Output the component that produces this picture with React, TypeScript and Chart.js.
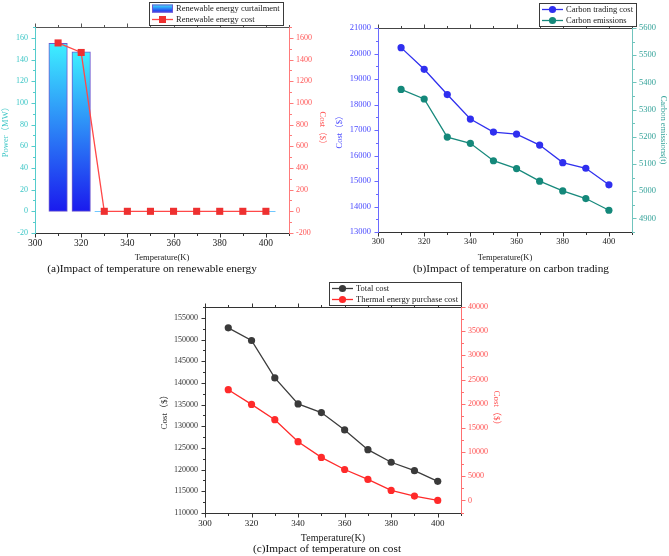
import React, { useEffect, useRef } from 'react';
import { Chart, registerables } from 'chart.js';

Chart.register(...registerables);

const SERIF = "'Liberation Serif', 'Times New Roman', 'Noto Sans CJK SC', serif";
Chart.defaults.font.family = SERIF;

// ---- data ----
const temperatureK = [310, 320, 330, 340, 350, 360, 370, 380, 390, 400];
const temperatureTicks = [300, 320, 340, 360, 380, 400];

const curtailmentMW = [155, 147, 0, 0, 0, 0, 0, 0, 0, 0];
const renewableCost = [1553, 1465, 0, 0, 0, 0, 0, 0, 0, 0];
const powerTicks = [-20, 0, 20, 40, 60, 80, 100, 120, 140, 160];
const renewableCostTicks = [-200, 0, 200, 400, 600, 800, 1000, 1200, 1400, 1600];

const carbonTradingCost = [20230, 19380, 18390, 17430, 16920, 16840, 16410, 15720, 15500, 14850];
const carbonEmissions = [5374, 5339, 5199, 5176, 5112, 5083, 5037, 5001, 4973, 4930];
const tradingCostTicks = [13000, 14000, 15000, 16000, 17000, 18000, 19000, 20000, 21000];
const emissionTicks = [4900, 5000, 5100, 5200, 5300, 5400, 5500, 5600];

const totalCost = [152700, 149770, 141150, 135150, 133150, 129150, 124600, 121700, 119770, 117300];
const thermalPurchaseCost = [22900, 19860, 16700, 12140, 8900, 6400, 4350, 2070, 900, 0];
const totalCostTicks = [110000, 115000, 120000, 125000, 130000, 135000, 140000, 145000, 150000, 155000];
const thermalCostTicks = [0, 5000, 10000, 15000, 20000, 25000, 30000, 35000, 40000];

const points = (ys: number[]) => temperatureK.map((x, i) => ({ x, y: ys[i] }));

// ---- frame with outward major/minor ticks, plus a boxed legend ----
const frameAndLegend = {
  id: 'frameAndLegend',
  afterDraw(chart: any, _args: any, opts: any) {
    const { ctx, chartArea: a, scales } = chart;
    const MAJ = 4;
    const MIN = 2.5;
    ctx.save();
    ctx.lineWidth = 1;

    const side = (scale: any, where: string, color: string) => {
      const vals: number[] = scale.ticks.map((t: any) => t.value);
      const step = vals.length > 1 ? vals[1] - vals[0] : 0;
      const minors: number[] = [];
      for (let i = 0; i < vals.length - 1; i++) minors.push((vals[i] + vals[i + 1]) / 2);
      if (step) {
        const lo = vals[0] - step / 2;
        const hi = vals[vals.length - 1] + step / 2;
        if (lo >= scale.min) minors.unshift(lo);
        if (hi <= scale.max) minors.push(hi);
      }
      ctx.strokeStyle = color;
      ctx.beginPath();
      if (where === 'top' || where === 'bottom') {
        const y = Math.round(where === 'top' ? a.top : a.bottom) + 0.5;
        const dir = where === 'top' ? -1 : 1;
        ctx.moveTo(a.left, y);
        ctx.lineTo(a.right, y);
        const mark = (v: number, len: number) => {
          const x = Math.round(scale.getPixelForValue(v)) + 0.5;
          ctx.moveTo(x, y);
          ctx.lineTo(x, y + dir * len);
        };
        vals.forEach((v) => mark(v, MAJ));
        minors.forEach((v) => mark(v, MIN));
      } else {
        const x = Math.round(where === 'left' ? a.left : a.right) + 0.5;
        const dir = where === 'left' ? -1 : 1;
        ctx.moveTo(x, a.top);
        ctx.lineTo(x, a.bottom + 1);
        const mark = (v: number, len: number) => {
          const y = Math.round(scale.getPixelForValue(v)) + 0.5;
          ctx.moveTo(x, y);
          ctx.lineTo(x + dir * len, y);
        };
        vals.forEach((v) => mark(v, MAJ));
        minors.forEach((v) => mark(v, MIN));
      }
      ctx.stroke();
    };

    side(scales.x, 'top', opts.topColor);
    side(scales.x, 'bottom', opts.bottomColor);
    side(scales.y, 'left', opts.leftColor);
    side(scales.y1, 'right', opts.rightColor);

    // legend
    const ds = chart.data.datasets;
    ctx.font = `${opts.legendSize}px ${SERIF}`;
    const textW = Math.max(...ds.map((d: any) => ctx.measureText(d.label).width));
    const padL = 3, sampleW = 21, gap = 3, padR = 3, rowH = 11;
    const w = Math.round(padL + sampleW + gap + textW + padR);
    const h = ds.length * rowH + 1;
    const right = Math.round(a.right + opts.legendOffsetX);
    const left = right - w;
    const top = opts.legendTop;
    ctx.fillStyle = '#ffffff';
    ctx.fillRect(left, top, w, h);
    ctx.strokeStyle = '#3a3a3a';
    ctx.lineWidth = 1;
    ctx.strokeRect(left + 0.5, top + 0.5, w, h);
    ds.forEach((d: any, i: number) => {
      const cy = top + rowH * i + rowH / 2 + 1;
      const sx = left + padL;
      const kind = d.type ?? chart.config.type;
      if (kind === 'bar') {
        const g = ctx.createLinearGradient(0, cy - 4, 0, cy + 4);
        g.addColorStop(0, '#3ef0ff');
        g.addColorStop(1, '#1a1aee');
        ctx.fillStyle = g;
        ctx.fillRect(sx, cy - 4, sampleW, 8);
        ctx.strokeStyle = d.borderColor;
        ctx.strokeRect(sx + 0.5, cy - 3.5, sampleW - 1, 7);
      } else {
        ctx.strokeStyle = d.borderColor;
        ctx.lineWidth = d.borderWidth;
        ctx.beginPath();
        ctx.moveTo(sx, cy);
        ctx.lineTo(sx + sampleW, cy);
        ctx.stroke();
        ctx.fillStyle = d.pointBackgroundColor;
        const mx = sx + sampleW / 2;
        if (d.pointStyle === 'rect') {
          ctx.fillRect(mx - 3.5, cy - 3.5, 7, 7);
        } else {
          ctx.beginPath();
          ctx.arc(mx, cy, d.pointRadius, 0, Math.PI * 2);
          ctx.fill();
        }
        ctx.lineWidth = 1;
      }
      ctx.fillStyle = '#1a1a1a';
      ctx.textBaseline = 'middle';
      ctx.textAlign = 'left';
      ctx.fillText(d.label, sx + sampleW + gap, cy + 0.5);
    });
    ctx.restore();
  },
};

// ---- axis builders ----
function xAxis(height: number, tickSize: number, titleSize: number) {
  return {
    type: 'linear',
    position: 'bottom',
    min: 300,
    max: 410,
    offset: false,
    grid: { display: false, drawTicks: false },
    border: { display: false },
    afterBuildTicks: (s: any) => {
      s.ticks = temperatureTicks.map((value) => ({ value }));
    },
    afterFit: (s: any) => {
      s.height = height;
    },
    ticks: { color: '#1a1a1a', font: { size: tickSize }, padding: 5, autoSkip: false, maxRotation: 0, callback: (v: any) => String(v) },
    title: { display: true, text: 'Temperature(K)', color: '#1a1a1a', font: { size: titleSize }, padding: { top: 0, bottom: 0 } },
  };
}

function yAxis(o: {
  position: 'left' | 'right';
  min: number;
  max: number;
  ticks: number[];
  width: number;
  color: string;
  size: number;
  title: string;
  titleSize: number;
  titlePad: number;
}) {
  return {
    type: 'linear',
    position: o.position,
    min: o.min,
    max: o.max,
    grid: { display: false, drawTicks: false },
    border: { display: false },
    afterBuildTicks: (s: any) => {
      s.ticks = o.ticks.map((value) => ({ value }));
    },
    afterFit: (s: any) => {
      s.width = o.width;
    },
    ticks: { color: o.color, font: { size: o.size }, padding: 7, callback: (v: any) => String(v) },
    title: { display: true, text: o.title, color: o.color, font: { size: o.titleSize }, padding: { top: o.titlePad, bottom: 0 } },
  };
}

const basePlugins = { legend: { display: false }, tooltip: { enabled: false } };

// ---- (a) renewable energy ----
function buildRenewable(): any {
  return {
    type: 'bar',
    data: {
      datasets: [
        {
          type: 'bar',
          label: 'Renewable energy curtailment',
          data: points(curtailmentMW),
          yAxisID: 'y',
          barThickness: 18.5,
          order: 1,
          borderColor: '#6f58d0',
          borderWidth: (c: any) => (c.raw && c.raw.y ? 1 : 0),
          borderSkipped: false,
          backgroundColor: (c: any) => {
            const chart = c.chart;
            if (!chart.chartArea || c.type !== 'data') return '#22aaff';
            const ys = chart.scales.y;
            const t = ys.getPixelForValue(c.parsed.y);
            const b = ys.getPixelForValue(0);
            if (!(b > t)) return '#22aaff';
            const g = chart.ctx.createLinearGradient(0, t, 0, b);
            g.addColorStop(0, '#3ef0ff');
            g.addColorStop(1, '#1a1aee');
            return g;
          },
        },
        {
          type: 'line',
          label: 'Renewable energy cost',
          data: points(renewableCost),
          yAxisID: 'y1',
          order: 0,
          borderColor: '#ff4848',
          borderWidth: 1.3,
          pointStyle: 'rect',
          pointRadius: 5,
          pointBackgroundColor: '#ee3030',
          pointBorderColor: '#ee3030',
          pointBorderWidth: 0,
          clip: false,
        },
      ],
    },
    options: {
      responsive: false,
      animation: false,
      events: [],
      layout: { padding: { top: 27, left: 0, right: 0, bottom: 0 } },
      scales: {
        x: xAxis(30, 9.5, 8.5),
        y: yAxis({ position: 'left', min: -20, max: 170, ticks: powerTicks, width: 35, color: '#3cc6c6', size: 8, title: 'Power（MW）', titleSize: 8.5, titlePad: 1 }),
        y1: yAxis({ position: 'right', min: -200, max: 1700, ticks: renewableCostTicks, width: 39, color: '#ff5656', size: 8, title: 'Cost（$）', titleSize: 8.5, titlePad: 1 }),
      },
      plugins: {
        ...basePlugins,
        frameAndLegend: {
          topColor: '#555555',
          bottomColor: '#333333',
          leftColor: '#55cccc',
          rightColor: '#ff7a7a',
          legendSize: 8.5,
          legendOffsetX: -6,
          legendTop: 2,
        },
      },
    },
    plugins: [frameAndLegend],
  };
}

// ---- (b) carbon trading ----
function buildCarbon(): any {
  return {
    type: 'line',
    data: {
      datasets: [
        {
          label: 'Carbon trading cost',
          data: points(carbonTradingCost),
          yAxisID: 'y',
          borderColor: '#3030ee',
          borderWidth: 1.3,
          pointRadius: 3.6,
          pointBackgroundColor: '#2f2fef',
          pointBorderWidth: 0,
          clip: false,
        },
        {
          label: 'Carbon emissions',
          data: points(carbonEmissions),
          yAxisID: 'y1',
          borderColor: '#17897c',
          borderWidth: 1.3,
          pointRadius: 3.6,
          pointBackgroundColor: '#14887a',
          pointBorderWidth: 0,
          clip: false,
        },
      ],
    },
    options: {
      responsive: false,
      animation: false,
      events: [],
      layout: { padding: { top: 28, left: 0, right: 0, bottom: 0 } },
      scales: {
        x: xAxis(31, 8.5, 8.5),
        y: yAxis({ position: 'left', min: 13000, max: 21000, ticks: tradingCostTicks, width: 43, color: '#4a4aff', size: 8.5, title: 'Cost（$）', titleSize: 8.5, titlePad: 0 }),
        y1: yAxis({ position: 'right', min: 4850, max: 5600, ticks: emissionTicks, width: 37, color: '#35a39a', size: 8.5, title: 'Carbon emissions(t)', titleSize: 8.5, titlePad: 1 }),
      },
      plugins: {
        ...basePlugins,
        frameAndLegend: {
          topColor: '#444444',
          bottomColor: '#333333',
          leftColor: '#6a6aff',
          rightColor: '#70c4bd',
          legendSize: 8.5,
          legendOffsetX: 4,
          legendTop: 3,
        },
      },
    },
    plugins: [frameAndLegend],
  };
}

// ---- (c) cost ----
function buildCost(): any {
  return {
    type: 'line',
    data: {
      datasets: [
        {
          label: 'Total cost',
          data: points(totalCost),
          yAxisID: 'y',
          borderColor: '#3c3c3c',
          borderWidth: 1.3,
          pointRadius: 3.6,
          pointBackgroundColor: '#3a3a3a',
          pointBorderWidth: 0,
          clip: false,
        },
        {
          label: 'Thermal energy purchase cost',
          data: points(thermalPurchaseCost),
          yAxisID: 'y1',
          borderColor: '#ff2a2a',
          borderWidth: 1.3,
          pointRadius: 3.6,
          pointBackgroundColor: '#ff2a2a',
          pointBorderWidth: 0,
          clip: false,
        },
      ],
    },
    options: {
      responsive: false,
      animation: false,
      events: [],
      layout: { padding: { top: 37, left: 0, right: 0, bottom: 0 } },
      scales: {
        x: xAxis(31, 9, 10),
        y: yAxis({ position: 'left', min: 110000, max: 157500, ticks: totalCostTicks, width: 47, color: '#333333', size: 8, title: 'Cost（$）', titleSize: 9, titlePad: 1 }),
        y1: yAxis({ position: 'right', min: -2600, max: 40000, ticks: thermalCostTicks, width: 42, color: '#ff5050', size: 8, title: 'Cost（$）', titleSize: 9, titlePad: 1 }),
      },
      plugins: {
        ...basePlugins,
        frameAndLegend: {
          topColor: '#333333',
          bottomColor: '#333333',
          leftColor: '#333333',
          rightColor: '#ff7070',
          legendSize: 8.5,
          legendOffsetX: 0,
          legendTop: 12,
        },
      },
    },
    plugins: [frameAndLegend],
  };
}

type PanelProps = { build: () => any; left: number; top: number; width: number; height: number };

function ChartPanel({ build, left, top, width, height }: PanelProps) {
  const ref = useRef<HTMLCanvasElement>(null);
  useEffect(() => {
    const chart = new Chart(ref.current as HTMLCanvasElement, build());
    return () => chart.destroy();
  }, [build]);
  return (
    <canvas
      ref={ref}
      width={width}
      height={height}
      style={{ position: 'absolute', left, top, width, height, display: 'block' }}
    />
  );
}

function Caption({ text, cx, cy }: { text: string; cx: number; cy: number }) {
  return (
    <div
      style={{
        position: 'absolute',
        left: cx,
        top: cy - 7,
        transform: 'translateX(-50%)',
        whiteSpace: 'nowrap',
        fontFamily: SERIF,
        fontSize: 11.3,
        lineHeight: '14px',
        color: '#111',
      }}
    >
      {text}
    </div>
  );
}

export default function App() {
  return (
    <div style={{ position: 'absolute', left: 0, top: 0, width: 669, height: 556, background: '#fff', overflow: 'hidden' }}>
      <ChartPanel build={buildRenewable} left={0} top={0} width={328} height={263} />
      <ChartPanel build={buildCarbon} left={335} top={0} width={334} height={263} />
      <ChartPanel build={buildCost} left={158} top={270} width={345} height={274} />
      <Caption text="(a)Impact of temperature on renewable energy" cx={152} cy={268} />
      <Caption text="(b)Impact of temperature on carbon trading" cx={511} cy={268} />
      <Caption text="(c)Impact of temperature on cost" cx={327} cy={548} />
    </div>
  );
}
